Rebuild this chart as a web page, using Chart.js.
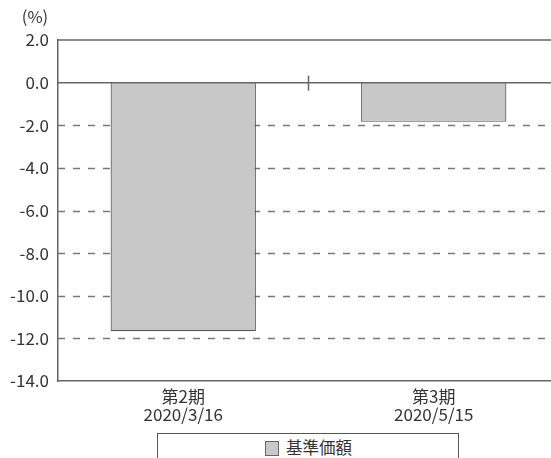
<!DOCTYPE html>
<html>
<head>
<meta charset="utf-8">
<script src="https://cdn.jsdelivr.net/npm/chart.js@4.4.0/dist/chart.umd.min.js"></script>
<style>
  html, body { margin: 0; padding: 0; background: #fff; overflow: hidden; width: 551px; height: 458px; }
  #wrap { position: absolute; left: 0; top: 0; width: 561px; height: 432px; }
  #legend { position: absolute; left: 157px; top: 433px; width: 302px; height: 40px; border: 1.5px solid #555; box-sizing: border-box;
            font-family: "Noto Sans CJK JP", sans-serif; font-size: 16.5px; color: #333; }
  #legend .box { position: absolute; left: 107px; top: 7px; width: 12px; height: 13px; background: #c8c8c8; border: 1px solid #666; }
  #legend .txt { position: absolute; left: 128px; top: 2px; line-height: 22px; }
</style>
</head>
<body>
<div id="wrap"><canvas id="c" width="561" height="432"></canvas></div>
<div id="legend"><span class="box"></span><span class="txt" id="legendText"></span></div>
<script>
const categories = [["第2期", "2020/3/16"], ["第3期", "2020/5/15"]];
const seriesName = "基準価額";
const values = [-11.66, -1.84];
const yTicks = [2, 0, -2, -4, -6, -8, -10, -12, -14];
const unitLabel = "(%)";

document.getElementById('legendText').textContent = seriesName;

const FONT = '"Noto Sans CJK JP", sans-serif';

const decor = {
  id: 'decor',
  beforeDatasetsDraw(chart) {
    const { ctx, chartArea: a, scales: { y } } = chart;
    ctx.save();
    ctx.strokeStyle = '#777';
    ctx.lineWidth = 1.5;
    ctx.setLineDash([7, 8]);
    yTicks.forEach(v => {
      if (v < 0 && v > -14) {
        const py = Math.round(y.getPixelForValue(v)) + 0.5;
        ctx.beginPath(); ctx.moveTo(a.left, py); ctx.lineTo(a.right, py); ctx.stroke();
      }
    });
    ctx.setLineDash([]);
    ctx.strokeStyle = '#666';
    const top = y.getPixelForValue(2);
    ctx.beginPath(); ctx.moveTo(a.left, top); ctx.lineTo(a.right, top); ctx.stroke();
    ctx.restore();
  },
  afterDatasetsDraw(chart) {
    const { ctx, chartArea: a, scales: { x, y } } = chart;
    ctx.save();
    ctx.strokeStyle = '#666';
    ctx.lineWidth = 1.5;
    const z = y.getPixelForValue(0);
    ctx.beginPath(); ctx.moveTo(a.left, z); ctx.lineTo(a.right, z); ctx.stroke();
    const mid = (x.getPixelForValue(0) + x.getPixelForValue(1)) / 2;
    ctx.beginPath(); ctx.moveTo(mid, z - 7); ctx.lineTo(mid, z + 8); ctx.stroke();
    ctx.fillStyle = '#333';
    ctx.font = '16.5px ' + FONT;
    ctx.textAlign = 'center';
    ctx.textBaseline = 'middle';
    ctx.fillText(unitLabel, 35, 17);
    ctx.restore();
  }
};

new Chart(document.getElementById('c'), {
  type: 'bar',
  data: {
    labels: categories,
    datasets: [{
      label: seriesName,
      data: values,
      backgroundColor: '#c8c8c8',
      borderColor: '#555',
      borderWidth: 1.2,
      categoryPercentage: 1.0,
      barPercentage: 0.58
    }]
  },
  options: {
    responsive: false,
    animation: false,
    layout: { padding: { top: 40, right: 2, left: 0, bottom: 0 } },
    plugins: { legend: { display: false }, tooltip: { enabled: false } },
    scales: {
      x: {
        grid: { display: false, drawTicks: false },
        border: { display: true, color: '#666', width: 1.5 },
        ticks: { color: '#333', font: { family: FONT, size: 17, lineHeight: 1.08 }, padding: 6, maxRotation: 0 },
        afterFit(s) { s.height = 51; }
      },
      y: {
        min: -14, max: 2,
        grid: { display: false, drawTicks: false },
        border: { display: true, color: '#666', width: 1.5 },
        afterBuildTicks(s) { s.ticks = yTicks.map(v => ({ value: v })); },
        ticks: { color: '#333', font: { family: FONT, size: 17 }, padding: 9,
                 callback: v => Number(v).toFixed(1) },
        afterFit(s) { s.width = 58; }
      }
    }
  },
  plugins: [decor]
});
</script>
</body>
</html>
